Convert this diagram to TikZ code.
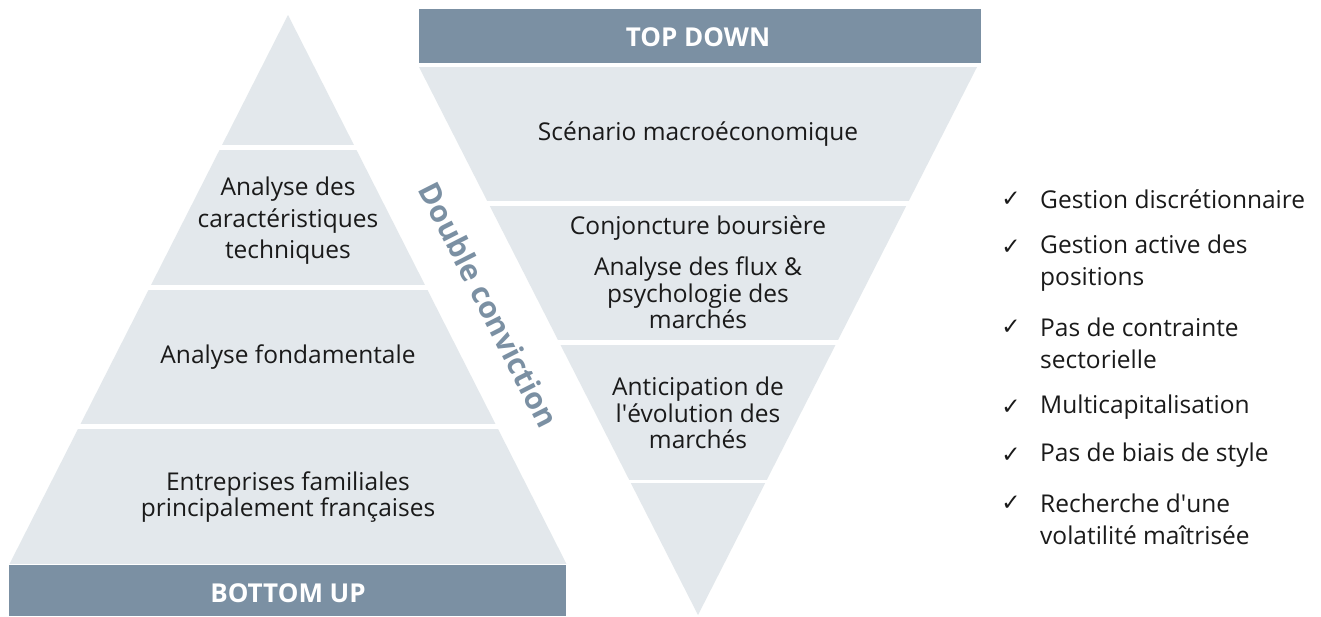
\documentclass[tikz,border=0pt]{standalone}
\usepackage{fontspec}
\setmainfont{Open Sans}
\newfontfamily\symfont{DejaVu Sans}
\definecolor{tierc}{HTML}{E3E8EC}
\definecolor{barc}{HTML}{7B90A3}
\definecolor{txtc}{HTML}{1A1A1A}
\tikzset{
  tier/.style={fill=tierc},
  bar/.style={fill=barc},
  lbl/.style={align=center, text=txtc, inner sep=0pt, font=\fontsize{24.5}{27}\selectfont},
  head/.style={text=white, inner sep=0pt, font=\bfseries\fontsize{26}{30}\selectfont},
  item/.style={anchor=west, align=left, text=txtc, inner sep=0pt, font=\fontsize{24.5}{32}\selectfont},
  tick/.style={text=txtc, inner sep=0pt, font=\symfont\fontsize{23}{26}\selectfont},
  dbl/.style={text=barc, inner sep=0pt, font=\bfseries\fontsize{30}{34}\selectfont, rotate=-63.1}
}
\begin{document}
\begin{tikzpicture}[x=1pt,y=-1pt]
\useasboundingbox[fill=white] (0,0) rectangle (1321,616);
% left pyramid
\begin{scope}
  \clip (288,15) -- (567,565) -- (9,565) -- cycle;
  \fill[tier] (0,15) rectangle (600,145);
  \fill[tier] (0,150) rectangle (600,285);
  \fill[tier] (0,290) rectangle (600,424);
  \fill[tier] (0,429) rectangle (600,563.5);
\end{scope}
\fill[bar] (8.5,565) rectangle (566,616);
% right inverted pyramid
\fill[bar] (419,9) rectangle (981,63);
\begin{scope}
  \clip (419,67) -- (977,67) -- (698,615) -- cycle;
  \fill[tier] (400,67) rectangle (1000,201);
  \fill[tier] (400,206) rectangle (1000,340);
  \fill[tier] (400,345) rectangle (1000,480);
  \fill[tier] (400,483) rectangle (1000,616);
\end{scope}
% labels left
\node[head] (bu) at (288,593) {BOTTOM UP};
\node[lbl, font=\fontsize{24.5}{31.5}\selectfont] (l2) at (288,221) {Analyse des\\caractéristiques\\techniques};
\node[lbl] (l3) at (288,357) {Analyse fondamentale};
\node[lbl, font=\fontsize{24.5}{26.5}\selectfont] (l4) at (288,497) {Entreprises familiales\\principalement françaises};
% labels right
\node[head] (td) at (698,37) {TOP DOWN};
\node[lbl] (r1) at (698,134) {Scénario macroéconomique};
\node[lbl] (r2a) at (698,228) {Conjoncture boursière};
\node[lbl, font=\fontsize{24.5}{26.5}\selectfont] (r2b) at (698,293) {Analyse des flux \&\\psychologie des\\marchés};
\node[lbl, font=\fontsize{24.5}{26.5}\selectfont] (r3) at (698,413) {Anticipation de\\l\textquotesingle évolution des\\marchés};
% double conviction
\node[dbl] (dc) at (489,305) {Double conviction};
% list
\node[tick] (t1) at (1011,199) {✓};
\node[item] (i1) at (1040,199) {Gestion discrétionnaire};
\node[tick] (t2) at (1011,247) {✓};
\node[item] (i2) at (1040,263) {Gestion active des\\positions};
\node[tick] (t3) at (1011,327) {✓};
\node[item] (i3) at (1040,343) {Pas de contrainte\\sectorielle};
\node[tick] (t4) at (1011,407) {✓};
\node[item] (i4) at (1040,407) {Multicapitalisation};
\node[tick] (t5) at (1011,455) {✓};
\node[item] (i5) at (1040,455) {Pas de biais de style};
\node[tick] (t6) at (1011,503) {✓};
\node[item] (i6) at (1040,519) {Recherche d\textquotesingle une\\volatilité maîtrisée};
\end{tikzpicture}
\end{document}
